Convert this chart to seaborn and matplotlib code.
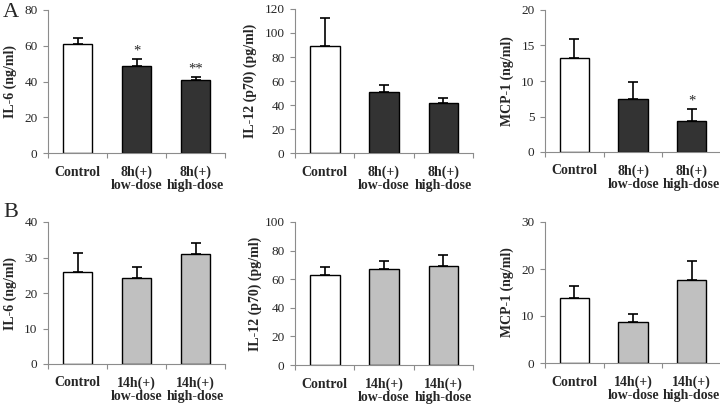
import numpy as np
import pandas as pd
import matplotlib
matplotlib.use("Agg")
import matplotlib.pyplot as plt
import seaborn as sns

# 데이터
groups = ["Control", "low-dose", "high-dose"]
labels_8h = ["Control", "8h(+)\nlow-dose", "8h(+)\nhigh-dose"]
labels_14h = ["Control", "14h(+)\nlow-dose", "14h(+)\nhigh-dose"]

il6_8h = [60.8, 48.9, 41.0]
il6_8h_err = [3.5, 3.7, 1.6]
il12_8h = [89.5, 50.8, 41.5]
il12_8h_err = [23.3, 6.0, 4.4]
mcp1_8h = [13.2, 7.4, 4.4]
mcp1_8h_err = [2.7, 2.4, 1.6]

il6_14h = [25.8, 24.2, 30.9]
il6_14h_err = [5.4, 3.2, 3.3]
il12_14h = [62.7, 66.8, 69.3]
il12_14h_err = [5.6, 6.1, 7.8]
mcp1_14h = [13.8, 8.7, 17.6]
mcp1_14h_err = [2.5, 1.7, 4.2]

stars_il6_8h = ["", "*", "**"]
stars_mcp1_8h = ["", "", "*"]
no_stars = ["", "", ""]

sns.set_style("ticks")
plt.rcParams['font.family'] = ['Liberation Serif', 'DejaVu Serif']

W, H = 720, 405
fig = plt.figure(figsize=(7.2, 4.05), dpi=100)

gray = "#8c8c8c"


def panel(box, vals, errs, labels, ylabel, ymax, ystep, fill, stars):
    left, right, top, bottom, label_x = box
    ax = fig.add_axes([left / W, 1 - bottom / H, (right - left) / W, (bottom - top) / H])
    df = pd.DataFrame({"group": groups, "value": vals})
    colors = ["white", fill, fill]
    sns.barplot(data=df, x="group", y="value", hue="group", palette=colors,
                legend=False, width=0.5, edgecolor="black", linewidth=1.0, ax=ax)
    x = np.arange(len(vals))
    ax.errorbar(x, vals, yerr=[np.zeros(len(vals)), errs], fmt="none",
                ecolor="black", elinewidth=1.2, capsize=3.5, capthick=1.2)
    for xi, v, e, s in zip(x, vals, errs, stars):
        if s:
            ax.annotate(s, (xi, v + e), xytext=(0, 1), textcoords="offset points",
                        ha="center", va="bottom", fontsize=10.5)
    ax.set_xlim(-0.5, 2.5)
    ax.set_ylim(0, ymax)
    ax.set_yticks(np.arange(0, ymax + ystep / 2, ystep))
    # 눈금은 막대 사이, 라벨은 막대 가운데
    ax.set_xticks([-0.5, 0.5, 1.5, 2.5])
    ax.set_xticklabels([])
    ax.set_xticks(x, minor=True)
    ax.set_xticklabels(labels, minor=True, fontweight="bold", fontsize=10,
                       linespacing=1.0)
    ax.tick_params(axis="x", which="minor", length=0, pad=9)
    ax.tick_params(axis="x", which="major", length=3.5, color=gray, width=0.8)
    ax.tick_params(axis="y", length=3.5, color=gray, width=0.8, labelsize=9.5, pad=4)
    ax.set_xlabel("")
    ax.set_ylabel(ylabel, fontweight="bold", fontsize=10)
    ax.yaxis.label.set_verticalalignment("center")
    ax.yaxis.set_label_coords(-(left - label_x) / (right - left), 0.5)
    for sp in ["left", "bottom"]:
        ax.spines[sp].set_color(gray)
        ax.spines[sp].set_linewidth(0.8)
    sns.despine(ax=ax)
    return ax


dark = "#333333"
light = "#c0c0c0"

panel((48, 225, 10, 153, 10), il6_8h, il6_8h_err, labels_8h, "IL-6 (ng/ml)", 80, 20, dark, stars_il6_8h)
panel((295, 473, 9, 153, 250), il12_8h, il12_8h_err, labels_8h, "IL-12 (p70) (pg/ml)", 120, 20, dark, no_stars)
panel((545, 721, 10, 152, 507), mcp1_8h, mcp1_8h_err, labels_8h, "MCP-1 (ng/ml)", 20, 5, dark, stars_mcp1_8h)
panel((48, 225, 222, 364, 10), il6_14h, il6_14h_err, labels_14h, "IL-6 (ng/ml)", 40, 10, light, no_stars)
panel((295, 473, 222, 365, 255), il12_14h, il12_14h_err, labels_14h, "IL-12 (p70) (pg/ml)", 100, 20, light, no_stars)
panel((545, 721, 222, 363, 507), mcp1_14h, mcp1_14h_err, labels_14h, "MCP-1 (ng/ml)", 30, 10, light, no_stars)

fig.text(3 / W, 1 - 3 / H, "A", fontsize=16, va="top", ha="left")
fig.text(3 / W, 1 - 203 / H, "B", fontsize=16, va="top", ha="left")

fig.savefig("out.png", dpi=100)
